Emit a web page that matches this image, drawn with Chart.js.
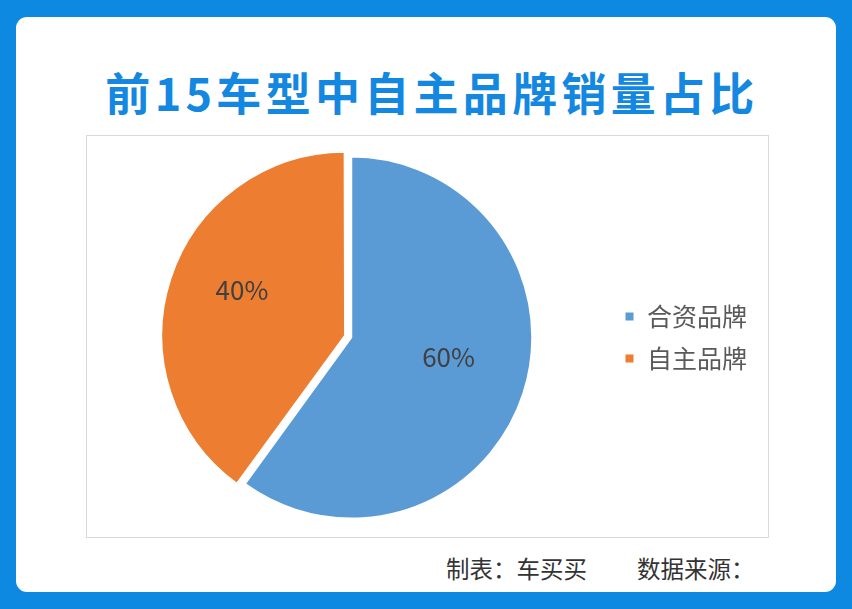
<!DOCTYPE html>
<html>
<head>
<meta charset="utf-8">
<script src="https://cdn.jsdelivr.net/npm/chart.js@4.4.0/dist/chart.umd.min.js"></script>
<style>
  html, body { margin: 0; padding: 0; }
  body { width: 852px; height: 609px; background: #0e89e2; position: relative; overflow: hidden;
         font-family: "Noto Sans CJK SC", "Noto Sans", sans-serif; }
  #card { position: absolute; left: 16px; top: 17px; width: 820px; height: 575px; background: #fff; border-radius: 11px; }
  #title { position: absolute; left: 6px; top: 62px; width: 852px; text-align: center; color: #1488e0;
           font-size: 45px; font-weight: bold; letter-spacing: 4.3px; line-height: 60px; white-space: nowrap; }
  #box { position: absolute; left: 86px; top: 135px; width: 681px; height: 401px; border: 1px solid #d9d9d9; }
  #foot1, #foot2 { position: absolute; top: 551px; font-size: 23.5px; color: #333; line-height: 34px; white-space: nowrap; }
  #foot1 { left: 446px; }
  #foot2 { left: 637px; }
</style>
</head>
<body>
<div id="card"></div>
<div id="title">前15车型中自主品牌销量占比</div>
<div id="box"><canvas id="chart" width="681" height="401"></canvas></div>
<div id="foot1">制表：车买买</div>
<div id="foot2">数据来源：</div>
<script>
const categories = ['合资品牌', '自主品牌'];
const shares = [60, 40];
const percentLabels = ['60%', '40%'];

const ctx = document.getElementById('chart').getContext('2d');

// draws the % text inside each slice
const sliceLabels = {
    id: 'sliceLabels',
    afterDatasetsDraw(chart) {
        const c = chart.ctx;
        const arcs = chart.getDatasetMeta(0).data;
        c.save();
        c.font = '26px "Noto Sans CJK SC", sans-serif';
        c.fillStyle = '#404040';
        c.textAlign = 'center';
        c.textBaseline = 'middle';
        arcs.forEach((arc, i) => {
            const p = arc.getProps(['x', 'y', 'startAngle', 'endAngle', 'outerRadius'], true);
            const mid = (p.startAngle + p.endAngle) / 2;
            const r = p.outerRadius * 0.6;
            c.fillText(percentLabels[i], p.x + Math.cos(mid) * r - 6, p.y + Math.sin(mid) * r - 14);
        });
        c.restore();
    }
};

let chart = new Chart(ctx, {
    type: 'pie',
    data: {
        labels: categories,
        datasets: [{
            data: shares,
            backgroundColor: ['#5b9bd5', '#ed7d31'],
            borderColor: '#ffffff',
            borderWidth: 2,
            offset: [0, 26],
            hoverOffset: 0
        }]
    },
    options: {
        responsive: false,
        animation: false,
        radius: 181,
        layout: { padding: { left: 8, right: 11, top: 11, bottom: 9 } },
        plugins: {
            tooltip: { enabled: false },
            legend: {
                position: 'right',
                labels: {
                    boxWidth: 10,
                    boxHeight: 10,
                    padding: 17,
                    color: '#595959',
                    font: { size: 25, family: '"Noto Sans CJK SC", sans-serif' }
                }
            }
        }
    },
    plugins: [sliceLabels]
});
</script>
</body>
</html>
